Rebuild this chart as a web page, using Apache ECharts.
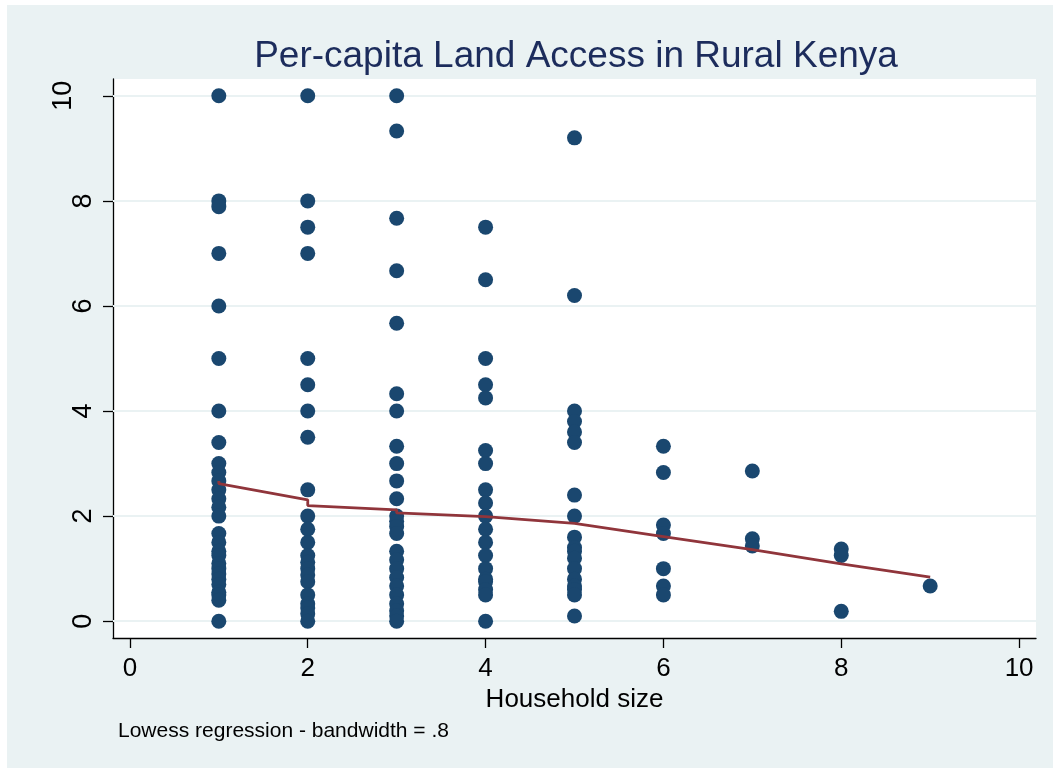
<!DOCTYPE html>
<html>
<head>
<meta charset="utf-8">
<script src="https://cdn.jsdelivr.net/npm/echarts@6/dist/echarts.min.js"></script>
<style>
  html, body { margin: 0; padding: 0; background: #ffffff; }
  #frame { position: absolute; left: 7px; top: 5px; right: 0; bottom: 1px; background: #EAF2F3; }
  #chart { position: absolute; left: 0; top: 0; width: 1053px; height: 769px; }
</style>
</head>
<body>
<div id="frame"></div>
<div id="chart"></div>
<script>
// Per-capita land (acres per person) observed for each household size
const size1 = [10, 8, 7.89, 7, 6, 5, 4, 3.4, 3, 2.83, 2.67, 2.5, 2.33, 2.17, 2, 1.67, 1.5, 1.33, 1.25, 1.1, 1, 0.9, 0.8, 0.7, 0.55, 0.5, 0.4, 0];
const size2 = [10, 8, 7.5, 7, 5, 4.5, 4, 3.5, 2.5, 2, 1.75, 1.5, 1.25, 1.12, 1, 0.88, 0.75, 0.5, 0.33, 0.25, 0.14, 0];
const size3 = [10, 9.33, 7.67, 6.67, 5.67, 4.33, 4, 3.33, 3, 2.67, 2.33, 2, 1.9, 1.8, 1.67, 1.33, 1.17, 1, 0.83, 0.67, 0.5, 0.33, 0.2, 0.1, 0];
const size4 = [7.5, 6.5, 5, 4.5, 4.25, 3.25, 3, 2.5, 2.25, 2, 1.75, 1.5, 1.25, 1, 0.8, 0.75, 0.6, 0.5, 0];
const size5 = [9.2, 6.2, 4, 3.8, 3.6, 3.4, 2.4, 2, 1.6, 1.4, 1.33, 1.2, 1, 0.8, 0.67, 0.6, 0.5, 0.1];
const size6 = [3.33, 2.83, 1.83, 1.67, 1, 0.67, 0.5];
const size7 = [2.86, 1.57, 1.43];
const size8 = [1.375, 1.25, 0.1875];
const size9 = [0.67];

// Lowess smoother (bandwidth .8), one fitted value per sorted observation group
const lowessX = [1, 1, 2, 2, 3, 3, 4, 4, 5, 6, 7, 8, 9];
const lowessY = [2.67, 2.62, 2.31, 2.2, 2.12, 2.06, 1.99, 1.97, 1.86, 1.61, 1.36, 1.09, 0.84];

// Axis ticks
const xTicks = [0, 2, 4, 6, 8, 10];
const yTicks = [0, 2, 4, 6, 8, 10];

const bySize = [size1, size2, size3, size4, size5, size6, size7, size8, size9];
const points = [];
bySize.forEach((vals, i) => vals.forEach(v => points.push([i + 1, v])));
const lowess = lowessX.map((x, i) => [x, lowessY[i]]);

const FONT = "'Liberation Sans', Arial, sans-serif";

const chart = echarts.init(document.getElementById('chart'), null, { renderer: 'canvas' });
chart.setOption({
  animation: false,
  backgroundColor: 'transparent',
  title: [
    {
      text: 'Per-capita Land Access in Rural Kenya',
      left: 571,
      top: 33,
      textAlign: 'center',
      textStyle: { fontFamily: FONT, fontSize: 37, fontWeight: 'normal', color: '#1C2C5C' }
    },
    {
      text: 'Lowess regression - bandwidth = .8',
      left: 113,
      top: 716,
      textStyle: { fontFamily: FONT, fontSize: 21, fontWeight: 'normal', color: '#000' }
    }
  ],
  grid: {
    left: 113, right: 17, top: 79, bottom: 131,
    show: true, backgroundColor: '#ffffff', borderWidth: 0
  },
  xAxis: {
    type: 'value',
    min: -0.19, max: 10.19,
    name: 'Household size',
    nameLocation: 'middle',
    nameGap: 41,
    nameTextStyle: { fontFamily: FONT, fontSize: 26, color: '#000' },
    axisLine: { onZero: false, lineStyle: { color: '#000', width: 1.3 } },
    axisTick: { customValues: xTicks, length: 10, lineStyle: { color: '#000', width: 1.3 } },
    axisLabel: { customValues: xTicks, fontFamily: FONT, fontSize: 26, color: '#000', margin: 18 },
    splitLine: { show: false }
  },
  yAxis: {
    type: 'value',
    min: -0.32, max: 10.32,
    axisLine: { onZero: false, lineStyle: { color: '#000', width: 1.3 } },
    axisTick: { customValues: yTicks, length: 10, lineStyle: { color: '#000', width: 1.3 } },
    axisLabel: {
      customValues: yTicks,
      rotate: 90,
      margin: 16,
      fontFamily: FONT, fontSize: 27, color: '#000',
      // two-digit labels sit further out from the axis
      formatter: v => (String(v).length > 1 ? '{wide|' + v + '}' : '{one|' + v + '}'),
      rich: {
        one: { fontFamily: FONT, fontSize: 27, color: '#000' },
        wide: { fontFamily: FONT, fontSize: 27, color: '#000', padding: [0, 0, 20, 0] }
      }
    },
    splitLine: { show: false }
  },
  series: [
    {
      type: 'scatter',
      name: 'Land per capita',
      data: points,
      symbol: 'circle',
      symbolSize: 15,
      itemStyle: { color: '#1A476F', opacity: 1 },
      z: 3,
      markLine: {
        silent: true,
        z: 1,
        symbol: ['none', 'none'],
        label: { show: false },
        lineStyle: { color: '#EAF2F3', width: 1.8, type: 'solid' },
        emphasis: { disabled: true },
        data: yTicks.map(v => ({ yAxis: v }))
      }
    },
    {
      type: 'line',
      name: 'Lowess',
      data: lowess,
      symbol: 'none',
      lineStyle: { color: '#90353B', width: 2.8 },
      z: 4
    }
  ]
});
</script>
</body>
</html>
